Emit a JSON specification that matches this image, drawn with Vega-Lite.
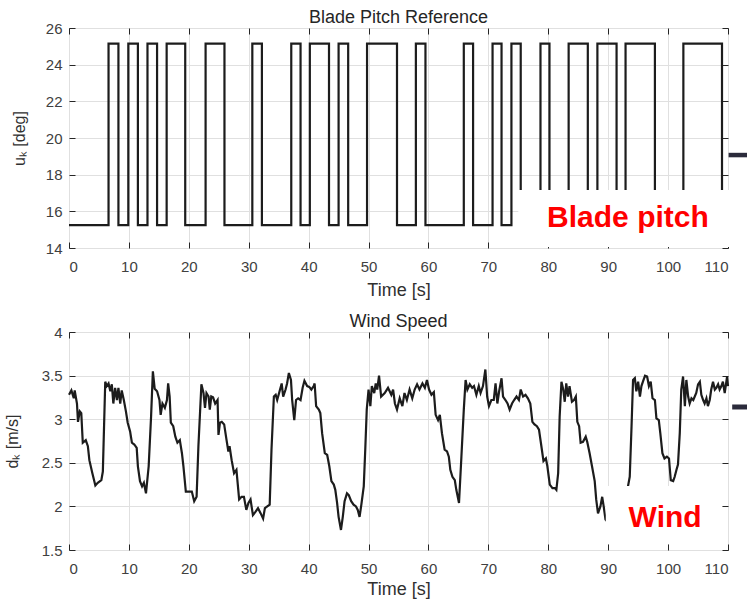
{
  "$schema": "https://vega.github.io/schema/vega-lite/v6.json",
  "background": "white",
  "padding": {"left": 3, "top": 8, "right": 0, "bottom": 0},
  "config": {
    "font": "Liberation Sans",
    "view": {"stroke": "#262626", "strokeWidth": 1},
    "axis": {
      "domain": false,
      "gridColor": "#e0e0e0",
      "gridOpacity": 1,
      "tickColor": "#262626",
      "tickSize": -6,
      "labelFont": "Liberation Sans",
      "labelFontSize": 15,
      "labelColor": "#404040",
      "titleFont": "Liberation Sans",
      "titleFontWeight": "normal",
      "titleColor": "#303030"
    },
    "title": {"font": "Liberation Sans", "fontSize": 18, "fontWeight": "normal", "color": "#262626", "baseline": "alphabetic", "offset": -6, "anchor": "middle"}
  },
  "spacing": 84,
  "bounds": "flush",
  "vconcat": [
    {
      "width": 659,
      "height": 220,
      "title": "Blade Pitch Reference",
      "resolve": {"axis": {"x": "independent", "y": "independent"}},
      "layer": [
        {
          "data": {"values": [
            {"t": 0, "u": 15.25}, {"t": 6.6, "u": 25.15}, {"t": 8.25, "u": 15.25}, {"t": 9.9, "u": 25.15},
            {"t": 11.5, "u": 15.25}, {"t": 13.1, "u": 25.15}, {"t": 14.7, "u": 15.25}, {"t": 16.3, "u": 25.15},
            {"t": 19.4, "u": 15.25}, {"t": 22.8, "u": 25.15}, {"t": 25.95, "u": 15.25}, {"t": 30.6, "u": 25.15},
            {"t": 32.2, "u": 15.25}, {"t": 37.1, "u": 25.15}, {"t": 38.65, "u": 15.25}, {"t": 40.2, "u": 25.15},
            {"t": 43.4, "u": 15.25}, {"t": 45.0, "u": 25.15}, {"t": 46.6, "u": 15.25}, {"t": 49.75, "u": 25.15},
            {"t": 54.75, "u": 15.25}, {"t": 57.9, "u": 25.15}, {"t": 59.5, "u": 15.25}, {"t": 65.9, "u": 25.15},
            {"t": 67.45, "u": 15.25}, {"t": 70.7, "u": 25.15}, {"t": 72.2, "u": 15.25}, {"t": 73.85, "u": 25.15},
            {"t": 75.4, "u": 15.25}, {"t": 78.7, "u": 25.15}, {"t": 80.2, "u": 15.25}, {"t": 83.4, "u": 25.15},
            {"t": 86.6, "u": 15.25}, {"t": 88.2, "u": 25.15}, {"t": 91.4, "u": 15.25}, {"t": 92.9, "u": 25.15},
            {"t": 97.8, "u": 15.25}, {"t": 102.55, "u": 25.15}, {"t": 109.0, "u": 15.25}, {"t": 110, "u": 15.25}
          ]},
          "mark": {"type": "line", "interpolate": "step-after", "color": "#1c1c1c", "strokeWidth": 2.2},
          "encoding": {
            "x": {"field": "t", "type": "quantitative", "scale": {"domain": [0, 110], "nice": false},
              "axis": {"values": [0, 10, 20, 30, 40, 50, 60, 70, 80, 90, 100, 110], "title": "Time [s]", "titleFontSize": 18, "labelPadding": 17, "titleY": 47, "titleBaseline": "alphabetic"}},
            "y": {"field": "u", "type": "quantitative", "scale": {"domain": [14, 26], "nice": false, "zero": false},
              "axis": {"values": [14, 16, 18, 20, 22, 24, 26], "title": "uₖ [deg]", "titleFontSize": 16, "titleX": -45, "titleBaseline": "alphabetic", "labelPadding": 13}}
          }
        },
        {
          "data": {"values": [{"x1": 75.0, "x2": 114, "y1": 17.16, "y2": 14.06}]},
          "mark": {"type": "rect", "color": "white"},
          "encoding": {
            "x": {"field": "x1", "type": "quantitative", "scale": {"domain": [0, 110], "nice": false},
              "axis": {"orient": "top", "values": [0, 10, 20, 30, 40, 50, 60, 70, 80, 90, 100, 110], "labels": false, "grid": false, "title": null}},
            "x2": {"field": "x2"},
            "y": {"field": "y1", "type": "quantitative", "scale": {"domain": [14, 26], "nice": false, "zero": false},
              "axis": {"orient": "right", "values": [14, 16, 18, 20, 22, 24, 26], "labels": false, "grid": false, "title": null}},
            "y2": {"field": "y2"}
          }
        },
        {
          "data": {"values": [{"x": 93.3, "y": 15.13, "label": "Blade pitch"}]},
          "mark": {"type": "text", "font": "Liberation Sans", "fontWeight": "bold", "fontSize": 30, "color": "#ff0000", "align": "center", "baseline": "alphabetic"},
          "encoding": {
            "x": {"field": "x", "type": "quantitative", "scale": {"domain": [0, 110], "nice": false}, "axis": null},
            "y": {"field": "y", "type": "quantitative", "scale": {"domain": [14, 26], "nice": false, "zero": false}, "axis": null},
            "text": {"field": "label"}
          }
        },
        {
          "data": {"values": [{"x1": 110.1, "x2": 113.5, "y": 19.07}]},
          "mark": {"type": "rule", "color": "#2b2b3b", "strokeWidth": 4.5},
          "encoding": {
            "x": {"field": "x1", "type": "quantitative", "scale": {"domain": [0, 110], "nice": false}, "axis": null},
            "x2": {"field": "x2"},
            "y": {"field": "y", "type": "quantitative", "scale": {"domain": [14, 26], "nice": false, "zero": false}, "axis": null}
          }
        }
      ]
    },
    {
      "width": 659,
      "height": 218,
      "title": "Wind Speed",
      "resolve": {"axis": {"x": "independent", "y": "independent"}},
      "layer": [
        {
          "data": {"values": [
            {"t": 0, "v": 3.28}, {"t": 0.4, "v": 3.33}, {"t": 0.8, "v": 3.24}, {"t": 0.95, "v": 3.33}, {"t": 1.33, "v": 3.18},
            {"t": 1.5, "v": 2.97}, {"t": 1.8, "v": 3.09}, {"t": 2.05, "v": 3.07}, {"t": 2.3, "v": 2.73}, {"t": 2.8, "v": 2.76},
            {"t": 3.15, "v": 2.69}, {"t": 3.4, "v": 2.53}, {"t": 3.9, "v": 2.38}, {"t": 4.4, "v": 2.24}, {"t": 4.8, "v": 2.27},
            {"t": 5.4, "v": 2.30}, {"t": 5.65, "v": 2.40}, {"t": 6.05, "v": 3.43}, {"t": 6.3, "v": 3.38}, {"t": 6.6, "v": 3.41},
            {"t": 6.9, "v": 3.32}, {"t": 7.15, "v": 3.40}, {"t": 7.4, "v": 3.18}, {"t": 7.7, "v": 3.36}, {"t": 8.0, "v": 3.22},
            {"t": 8.25, "v": 3.36}, {"t": 8.55, "v": 3.18}, {"t": 8.8, "v": 3.33}, {"t": 9.15, "v": 3.22}, {"t": 9.5, "v": 3.09},
            {"t": 9.8, "v": 2.96}, {"t": 10.2, "v": 2.86}, {"t": 10.5, "v": 2.73}, {"t": 10.9, "v": 2.71}, {"t": 11.3, "v": 2.67},
            {"t": 11.5, "v": 2.46}, {"t": 11.85, "v": 2.29}, {"t": 12.2, "v": 2.23}, {"t": 12.5, "v": 2.27}, {"t": 12.85, "v": 2.15},
            {"t": 13.3, "v": 2.46}, {"t": 13.7, "v": 3.03}, {"t": 14.0, "v": 3.55}, {"t": 14.3, "v": 3.35}, {"t": 14.7, "v": 3.32},
            {"t": 15.1, "v": 3.22}, {"t": 15.3, "v": 3.05}, {"t": 15.6, "v": 3.18}, {"t": 16.0, "v": 3.13}, {"t": 16.35, "v": 3.22},
            {"t": 16.55, "v": 3.41}, {"t": 16.8, "v": 3.26}, {"t": 17.0, "v": 2.96}, {"t": 17.4, "v": 2.92}, {"t": 17.75, "v": 2.80},
            {"t": 18.1, "v": 2.73}, {"t": 18.5, "v": 2.76}, {"t": 18.85, "v": 2.61}, {"t": 19.1, "v": 2.46}, {"t": 19.5, "v": 2.17},
            {"t": 20.1, "v": 2.17}, {"t": 20.5, "v": 2.17}, {"t": 20.9, "v": 2.06}, {"t": 21.3, "v": 2.11}, {"t": 21.6, "v": 2.69},
            {"t": 22.1, "v": 3.40}, {"t": 22.45, "v": 3.30}, {"t": 22.7, "v": 3.13}, {"t": 22.95, "v": 3.30}, {"t": 23.3, "v": 3.26},
            {"t": 23.5, "v": 3.11}, {"t": 23.75, "v": 3.26}, {"t": 24.05, "v": 3.25}, {"t": 24.4, "v": 3.18}, {"t": 24.8, "v": 3.22},
            {"t": 24.95, "v": 2.82}, {"t": 25.2, "v": 2.96}, {"t": 25.5, "v": 2.97}, {"t": 25.9, "v": 2.94}, {"t": 26.3, "v": 2.76},
            {"t": 26.6, "v": 2.63}, {"t": 26.8, "v": 2.69}, {"t": 27.15, "v": 2.53}, {"t": 27.55, "v": 2.38}, {"t": 27.95, "v": 2.42},
            {"t": 28.4, "v": 2.08}, {"t": 28.8, "v": 2.11}, {"t": 29.2, "v": 2.11}, {"t": 29.6, "v": 1.96}, {"t": 29.95, "v": 2.04},
            {"t": 30.3, "v": 2.08}, {"t": 30.7, "v": 1.90}, {"t": 31.15, "v": 1.94}, {"t": 31.55, "v": 1.98}, {"t": 32.0, "v": 1.92},
            {"t": 32.4, "v": 1.86}, {"t": 32.7, "v": 1.98}, {"t": 33.1, "v": 2.0}, {"t": 33.5, "v": 2.02}, {"t": 33.8, "v": 2.65},
            {"t": 34.2, "v": 3.26}, {"t": 34.5, "v": 3.28}, {"t": 34.75, "v": 3.22}, {"t": 35.15, "v": 3.32}, {"t": 35.5, "v": 3.41},
            {"t": 35.75, "v": 3.26}, {"t": 36.15, "v": 3.34}, {"t": 36.4, "v": 3.41}, {"t": 36.7, "v": 3.53}, {"t": 37.05, "v": 3.45},
            {"t": 37.25, "v": 3.22}, {"t": 37.6, "v": 2.99}, {"t": 37.9, "v": 3.22}, {"t": 38.25, "v": 3.24}, {"t": 38.65, "v": 3.22},
            {"t": 39.0, "v": 3.36}, {"t": 39.3, "v": 3.44}, {"t": 39.75, "v": 3.38}, {"t": 40.1, "v": 3.37}, {"t": 40.45, "v": 3.34},
            {"t": 40.85, "v": 3.38}, {"t": 41.0, "v": 3.41}, {"t": 41.25, "v": 3.15}, {"t": 41.7, "v": 3.11}, {"t": 41.95, "v": 3.07},
            {"t": 42.25, "v": 2.84}, {"t": 42.7, "v": 2.61}, {"t": 43.1, "v": 2.59}, {"t": 43.45, "v": 2.46}, {"t": 43.8, "v": 2.29},
            {"t": 44.2, "v": 2.25}, {"t": 44.45, "v": 2.19}, {"t": 44.75, "v": 2.04}, {"t": 45.0, "v": 1.88}, {"t": 45.4, "v": 1.73},
            {"t": 45.7, "v": 1.88}, {"t": 46.0, "v": 2.06}, {"t": 46.4, "v": 2.15}, {"t": 46.7, "v": 2.13}, {"t": 47.1, "v": 2.06},
            {"t": 47.5, "v": 2.02}, {"t": 47.9, "v": 2.0}, {"t": 48.2, "v": 1.96}, {"t": 48.5, "v": 1.88}, {"t": 48.8, "v": 2.02},
            {"t": 49.2, "v": 2.23}, {"t": 49.45, "v": 2.65}, {"t": 49.7, "v": 3.11}, {"t": 50.0, "v": 3.34}, {"t": 50.3, "v": 3.15},
            {"t": 50.55, "v": 3.38}, {"t": 50.95, "v": 3.30}, {"t": 51.2, "v": 3.41}, {"t": 51.45, "v": 3.34}, {"t": 51.75, "v": 3.50},
            {"t": 52.1, "v": 3.26}, {"t": 52.7, "v": 3.30}, {"t": 53.25, "v": 3.36}, {"t": 53.8, "v": 3.28}, {"t": 54.1, "v": 3.34},
            {"t": 54.4, "v": 3.18}, {"t": 54.75, "v": 3.11}, {"t": 55.2, "v": 3.24}, {"t": 55.65, "v": 3.15}, {"t": 56.0, "v": 3.30},
            {"t": 56.4, "v": 3.22}, {"t": 56.85, "v": 3.34}, {"t": 57.3, "v": 3.24}, {"t": 57.7, "v": 3.34}, {"t": 58.1, "v": 3.40},
            {"t": 58.5, "v": 3.34}, {"t": 59.0, "v": 3.41}, {"t": 59.4, "v": 3.36}, {"t": 59.75, "v": 3.45}, {"t": 60.1, "v": 3.34},
            {"t": 60.5, "v": 3.28}, {"t": 60.9, "v": 3.31}, {"t": 61.2, "v": 3.05}, {"t": 61.6, "v": 2.99}, {"t": 61.9, "v": 3.05},
            {"t": 62.25, "v": 2.84}, {"t": 62.7, "v": 2.65}, {"t": 63.1, "v": 2.63}, {"t": 63.4, "v": 2.57}, {"t": 63.65, "v": 2.42},
            {"t": 64.0, "v": 2.34}, {"t": 64.4, "v": 2.30}, {"t": 64.65, "v": 2.19}, {"t": 65.1, "v": 2.04}, {"t": 65.5, "v": 2.57},
            {"t": 65.9, "v": 3.11}, {"t": 66.2, "v": 3.45}, {"t": 66.5, "v": 3.34}, {"t": 66.9, "v": 3.40}, {"t": 67.3, "v": 3.36},
            {"t": 67.6, "v": 3.38}, {"t": 68.0, "v": 3.28}, {"t": 68.4, "v": 3.38}, {"t": 68.7, "v": 3.30}, {"t": 69.1, "v": 3.38},
            {"t": 69.5, "v": 3.57}, {"t": 69.8, "v": 3.26}, {"t": 70.1, "v": 3.15}, {"t": 70.5, "v": 3.22}, {"t": 70.9, "v": 3.22},
            {"t": 71.2, "v": 3.41}, {"t": 71.5, "v": 3.18}, {"t": 71.8, "v": 3.32}, {"t": 72.2, "v": 3.47}, {"t": 72.45, "v": 3.26},
            {"t": 72.85, "v": 3.22}, {"t": 73.2, "v": 3.18}, {"t": 73.55, "v": 3.11}, {"t": 73.95, "v": 3.18}, {"t": 74.3, "v": 3.22},
            {"t": 74.7, "v": 3.26}, {"t": 75.1, "v": 3.22}, {"t": 75.4, "v": 3.34}, {"t": 75.8, "v": 3.26}, {"t": 76.2, "v": 3.28},
            {"t": 76.6, "v": 3.24}, {"t": 77.0, "v": 3.18}, {"t": 77.35, "v": 2.97}, {"t": 77.7, "v": 2.94}, {"t": 78.1, "v": 2.92},
            {"t": 78.45, "v": 2.88}, {"t": 78.85, "v": 2.69}, {"t": 79.2, "v": 2.52}, {"t": 79.6, "v": 2.55}, {"t": 79.85, "v": 2.46},
            {"t": 80.25, "v": 2.25}, {"t": 80.7, "v": 2.21}, {"t": 81.1, "v": 2.21}, {"t": 81.35, "v": 2.19}, {"t": 81.65, "v": 2.38},
            {"t": 81.9, "v": 3.03}, {"t": 82.2, "v": 3.43}, {"t": 82.5, "v": 3.34}, {"t": 82.75, "v": 3.20}, {"t": 83.0, "v": 3.41},
            {"t": 83.3, "v": 3.26}, {"t": 83.55, "v": 3.38}, {"t": 83.95, "v": 3.20}, {"t": 84.3, "v": 3.22}, {"t": 84.6, "v": 3.26},
            {"t": 84.85, "v": 2.97}, {"t": 85.15, "v": 2.92}, {"t": 85.4, "v": 2.73}, {"t": 85.8, "v": 2.74}, {"t": 86.25, "v": 2.80},
            {"t": 86.5, "v": 2.74}, {"t": 86.9, "v": 2.61}, {"t": 87.3, "v": 2.46}, {"t": 87.75, "v": 2.29}, {"t": 88.0, "v": 2.08},
            {"t": 88.3, "v": 1.92}, {"t": 88.7, "v": 2.0}, {"t": 89.0, "v": 2.11}, {"t": 89.25, "v": 2.0}, {"t": 89.55, "v": 1.85},
            {"t": 90.2, "v": 1.8}, {"t": 91.0, "v": 1.86}, {"t": 91.8, "v": 1.92}, {"t": 92.5, "v": 2.0}, {"t": 93.1, "v": 2.15},
            {"t": 93.6, "v": 2.34}, {"t": 93.9, "v": 2.92}, {"t": 94.15, "v": 3.45}, {"t": 94.45, "v": 3.47}, {"t": 94.7, "v": 3.32},
            {"t": 95.0, "v": 3.43}, {"t": 95.3, "v": 3.26}, {"t": 95.55, "v": 3.38}, {"t": 95.8, "v": 3.43}, {"t": 96.15, "v": 3.50},
            {"t": 96.5, "v": 3.49}, {"t": 96.8, "v": 3.38}, {"t": 97.1, "v": 3.43}, {"t": 97.4, "v": 3.24}, {"t": 97.8, "v": 3.22},
            {"t": 98.05, "v": 3.01}, {"t": 98.45, "v": 2.99}, {"t": 98.7, "v": 2.84}, {"t": 99.05, "v": 2.61}, {"t": 99.4, "v": 2.55},
            {"t": 99.8, "v": 2.57}, {"t": 100.15, "v": 2.55}, {"t": 100.45, "v": 2.30}, {"t": 100.85, "v": 2.29}, {"t": 101.1, "v": 2.34},
            {"t": 101.4, "v": 2.42}, {"t": 101.65, "v": 2.48}, {"t": 101.95, "v": 2.84}, {"t": 102.2, "v": 3.34}, {"t": 102.5, "v": 3.49},
            {"t": 102.8, "v": 3.15}, {"t": 103.05, "v": 3.45}, {"t": 103.35, "v": 3.26}, {"t": 103.6, "v": 3.18}, {"t": 103.9, "v": 3.24},
            {"t": 104.2, "v": 3.22}, {"t": 104.45, "v": 3.26}, {"t": 104.7, "v": 3.30}, {"t": 105.0, "v": 3.40}, {"t": 105.3, "v": 3.43},
            {"t": 105.55, "v": 3.28}, {"t": 105.85, "v": 3.22}, {"t": 106.1, "v": 3.18}, {"t": 106.4, "v": 3.24}, {"t": 106.65, "v": 3.15},
            {"t": 106.95, "v": 3.22}, {"t": 107.2, "v": 3.34}, {"t": 107.5, "v": 3.43}, {"t": 107.8, "v": 3.34}, {"t": 108.05, "v": 3.36},
            {"t": 108.35, "v": 3.40}, {"t": 108.6, "v": 3.34}, {"t": 108.9, "v": 3.38}, {"t": 109.15, "v": 3.43}, {"t": 109.45, "v": 3.30},
            {"t": 109.85, "v": 3.49}, {"t": 110.0, "v": 3.38}
          ]},
          "mark": {"type": "line", "color": "#1c1c1c", "strokeWidth": 2.2},
          "encoding": {
            "x": {"field": "t", "type": "quantitative", "scale": {"domain": [0, 110], "nice": false},
              "axis": {"values": [0, 10, 20, 30, 40, 50, 60, 70, 80, 90, 100, 110], "title": "Time [s]", "titleFontSize": 18, "labelPadding": 17, "titleY": 44, "titleBaseline": "alphabetic"}},
            "y": {"field": "v", "type": "quantitative", "scale": {"domain": [1.5, 4], "nice": false, "zero": false},
              "axis": {"values": [1.5, 2, 2.5, 3, 3.5, 4], "format": "~g", "title": "dₖ [m/s]", "titleFontSize": 16, "titleX": -52, "titleBaseline": "alphabetic", "labelPadding": 13}}
          }
        },
        {
          "data": {"values": [{"x1": 89.6, "x2": 109.0, "y1": 2.235, "y2": 1.57}]},
          "mark": {"type": "rect", "color": "white"},
          "encoding": {
            "x": {"field": "x1", "type": "quantitative", "scale": {"domain": [0, 110], "nice": false},
              "axis": {"orient": "top", "values": [0, 10, 20, 30, 40, 50, 60, 70, 80, 90, 100, 110], "labels": false, "grid": false, "title": null}},
            "x2": {"field": "x2"},
            "y": {"field": "y1", "type": "quantitative", "scale": {"domain": [1.5, 4], "nice": false, "zero": false},
              "axis": {"orient": "right", "values": [1.5, 2, 2.5, 3, 3.5, 4], "labels": false, "grid": false, "title": null}},
            "y2": {"field": "y2"}
          }
        },
        {
          "data": {"values": [{"x": 99.5, "y": 1.768, "label": "Wind"}]},
          "mark": {"type": "text", "font": "Liberation Sans", "fontWeight": "bold", "fontSize": 30, "color": "#ff0000", "align": "center", "baseline": "alphabetic"},
          "encoding": {
            "x": {"field": "x", "type": "quantitative", "scale": {"domain": [0, 110], "nice": false}, "axis": null},
            "y": {"field": "y", "type": "quantitative", "scale": {"domain": [1.5, 4], "nice": false, "zero": false}, "axis": null},
            "text": {"field": "label"}
          }
        },
        {
          "data": {"values": [{"x1": 110.7, "x2": 113.5, "y": 3.14}]},
          "mark": {"type": "rule", "color": "#2b2b3b", "strokeWidth": 5},
          "encoding": {
            "x": {"field": "x1", "type": "quantitative", "scale": {"domain": [0, 110], "nice": false}, "axis": null},
            "x2": {"field": "x2"},
            "y": {"field": "y", "type": "quantitative", "scale": {"domain": [1.5, 4], "nice": false, "zero": false}, "axis": null}
          }
        }
      ]
    }
  ]
}
